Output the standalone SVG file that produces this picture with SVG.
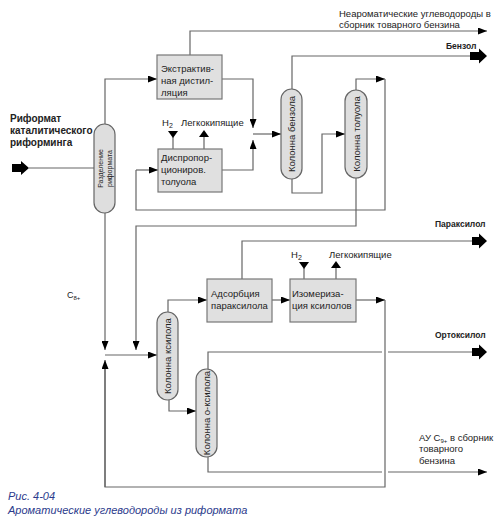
<svg xmlns="http://www.w3.org/2000/svg" width="500" height="520" viewBox="0 0 500 520">
<style>
text{font-family:"Liberation Sans",Arial,sans-serif;font-size:9.5px;fill:#222}
.b{font-weight:bold;font-size:10px}
.bo{font-weight:bold;font-size:8.5px}
.box{fill:#e0e0e0;stroke:#777;stroke-width:1.2}
.col{fill:#dedede;stroke:#666;stroke-width:1.2}
.ln{fill:none;stroke:#666;stroke-width:1.2}
.ar{fill:none;stroke:#666;stroke-width:1.2;marker-end:url(#a)}
.big{fill:#000}
.cap{font-style:italic;fill:#2b3a8c;font-size:11px}
</style>
<defs>
<marker id="a" markerUnits="userSpaceOnUse" markerWidth="9" markerHeight="7" refX="9" refY="3.5" orient="auto"><path d="M0,0 L9,3.5 L0,7 z" fill="#000"/></marker>
</defs>
<rect width="500" height="520" fill="#fff"/>
<g id="connectors">
<path class="big" d="M12,164 L21,164 L21,161 L29,168 L21,175 L21,172 L12,172 z"/>
<path class="ln" d="M29,168 H94"/>
<path class="ar" d="M105,124 V79 H157"/>
<path class="ar" d="M190,55 V31 H487"/>
<path class="ar" d="M222,79 H253 V128"/>
<path class="ar" d="M222,170 H253 V140"/>
<path class="ar" d="M253,134 H281"/>
<path class="ln" d="M292,89 V56 H470"/>
<path class="big" d="M470,52 H479 V48.5 L487,56 L479,63.5 V60 H470 z"/>
<path class="ar" d="M292,179 V193 H322 V134 H345"/>
<path class="ar" d="M356,90 V79 H385"/>
<path class="ln" d="M385,79 V210 H136 V170"/>
<path class="ar" d="M136,170 H158"/>
<path class="ar" d="M356,178 V226 H136 V350"/>
<path class="ar" d="M105,213 V350"/>
<path class="ar" d="M356,300 H385"/>
<path class="ln" d="M385,300 V487 H105 V362"/>
<path class="ar" d="M105,487 V360"/>
<path class="ar" d="M105,355 H157"/>
<path class="ar" d="M168,312 V300 H207"/>
<path class="ar" d="M272,300 H290"/>
<path class="ln" d="M242,279 V241 H472"/>
<path class="big" d="M472,237 H479 V233.5 L487,241 L479,248.5 V245 H472 z"/>
<path class="ar" d="M169,400 V411 H196"/>
<path class="ln" d="M208,369 V352 H382 M388,352 H472"/>
<path class="big" d="M472,348 H479 V344.5 L487,352 L479,359.5 V356 H472 z"/>
<path class="ln" d="M208,457 V472 H382"/>
<path class="ar" d="M388,472 H487"/>
<path class="ln" d="M173,137 V149 M204,137 V149"/>
<path class="big" d="M168,131 H178 L173,138 z"/>
<path class="big" d="M199,137 H209 L204,130 z"/>
<path class="ln" d="M304,268 V279 M336,268 V279"/>
<path class="big" d="M299,262 H309 L304,269 z"/>
<path class="big" d="M331,268 H341 L336,261 z"/>
</g>
<g id="reformate-split">
<rect class="col" x="94" y="124" width="21" height="89" rx="10.5"/>
<text transform="translate(105,168.5) rotate(-90)" text-anchor="middle" style="font-size:7px"><tspan x="0" y="-2">Разделение</tspan><tspan x="0" y="6.5">риформата</tspan></text>
</g>
<g id="extractive">
<rect class="box" x="157" y="55" width="65" height="44"/>
<text x="161" y="72">Экстрактив-</text>
<text x="161" y="84">ная дистил-</text>
<text x="161" y="96">ляция</text>
</g>
<g id="dispro">
<rect class="box" x="158" y="149" width="64" height="43"/>
<text x="161" y="161">Диспропор-</text>
<text x="161" y="173">циониров.</text>
<text x="161" y="185">толуола</text>
</g>
<g id="benzene-col">
<rect class="col" x="281" y="89" width="21" height="90" rx="10.5"/>
<text transform="translate(291.5,134) rotate(-90)" text-anchor="middle" y="3.5">Колонна бензола</text>
</g>
<g id="toluene-col">
<rect class="col" x="345" y="90" width="22" height="88" rx="11"/>
<text transform="translate(356,134) rotate(-90)" text-anchor="middle" y="3.5">Колонна толуола</text>
</g>
<g id="xylene-col">
<rect class="col" x="157" y="312" width="21" height="88" rx="10.5"/>
<text transform="translate(167.5,356) rotate(-90)" text-anchor="middle" y="3.5">Колонна ксилола</text>
</g>
<g id="oxylene-col">
<rect class="col" x="196" y="369" width="21" height="88" rx="10.5"/>
<text transform="translate(206.5,413) rotate(-90)" text-anchor="middle" y="3.5">Колонна о-ксилола</text>
</g>
<g id="adsorption">
<rect class="box" x="207" y="279" width="65" height="43"/>
<text x="211" y="297">Адсорбция</text>
<text x="211" y="309">параксилола</text>
</g>
<g id="isomerization">
<rect class="box" x="290" y="279" width="66" height="43"/>
<text x="292" y="297">Изомериза-</text>
<text x="292" y="309">ция ксилолов</text>
</g>
<g id="labels">
<text class="b" x="10" y="122">Риформат</text>
<text class="b" x="10" y="134">каталитического</text>
<text class="b" x="10" y="146">риформинга</text>
<text x="339" y="17">Неароматические углеводороды в</text>
<text x="339" y="28">сборник товарного бензина</text>
<text class="bo" x="446" y="49">Бензол</text>
<text x="162" y="126">H<tspan font-size="7" dy="2">2</tspan></text>
<text x="181" y="126">Легкокипящие</text>
<text class="bo" x="435" y="227">Параксилол</text>
<text x="291" y="258">H<tspan font-size="7" dy="2">2</tspan></text>
<text x="329" y="258">Легкокипящие</text>
<text class="bo" x="435" y="338">Ортоксилол</text>
<text x="67" y="298" style="font-size:9px">C<tspan font-size="6" dy="2">8+</tspan></text>
<text x="419" y="441">АУ C<tspan font-size="6" dy="2">9+</tspan><tspan dy="-2"> в сборник</tspan></text>
<text x="419" y="452">товарного</text>
<text x="419" y="464">бензина</text>
<text class="cap" x="8" y="500">Рис. 4-04</text>
<text class="cap" x="8" y="514">Ароматические углеводороды из риформата</text>
</g>
</svg>
